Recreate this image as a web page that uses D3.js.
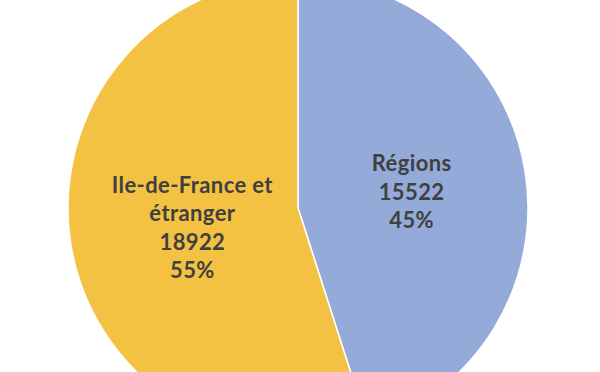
<!DOCTYPE html>
<html>
<head>
<meta charset="utf-8">
<script src="https://cdn.jsdelivr.net/npm/d3@7.9.0/dist/d3.min.js"></script>
<style>
  html, body { margin: 0; padding: 0; background: #fff; }
  svg { display: block; }
</style>
</head>
<body>
<script>
// ** Data **
const categories = ["Régions", "Ile-de-France et étranger"];
const labelLines = [["Régions"], ["Ile-de-France et", "étranger"]];
const values = [15522, 18922];
const colors = ["#94AAD8", "#F4C242"];

// ** SVG Setup **
const width = 600, height = 372;
const cx = 298, cy = 208, radius = 230;

const svg = d3.select("body")
    .append("svg")
    .attr("width", width)
    .attr("height", height);

const g = svg.append("g")
    .attr("transform", `translate(${cx},${cy})`);

const total = d3.sum(values);
const pie = d3.pie().sort(null).value(d => d.value);
const arcs = pie(categories.map((c, i) => ({ name: c, value: values[i], lines: labelLines[i], color: colors[i] })));

const arc = d3.arc().innerRadius(0).outerRadius(radius);

// ** Slices **
g.selectAll("path.slice")
    .data(arcs)
    .enter()
    .append("path")
    .attr("class", "slice")
    .attr("d", arc)
    .attr("fill", d => d.data.color)
    .attr("stroke", "#fff")
    .attr("stroke-width", 1.5)
    .attr("stroke-linejoin", "round");

// ** Labels **
const lineH = 28.5;
const labels = g.selectAll("text.label")
    .data(arcs)
    .enter()
    .append("text")
    .attr("class", "label")
    .attr("transform", d => {
        const [x, y] = arc.centroid(d);
        return `translate(${x + (d.index === 1 ? 8 : 0)},${y + 2})`;
    })
    .style("text-anchor", "middle")
    .style("font-family", "Lato, 'Open Sans', sans-serif")
    .style("font-weight", "bold")
    .style("font-size", "22px")
    .style("letter-spacing", "0.4px")
    .style("fill", "#404040");

labels.each(function (d) {
    const lines = d.data.lines.concat([String(d.data.value), Math.round(d.data.value / total * 100) + "%"]);
    const start = -(lines.length - 1) / 2 * lineH;
    d3.select(this).selectAll("tspan")
        .data(lines)
        .enter()
        .append("tspan")
        .attr("x", 0)
        .attr("y", (l, i) => start + i * lineH)
        .attr("dy", "0.35em")
        .text(l => l);
});
</script>
</body>
</html>
